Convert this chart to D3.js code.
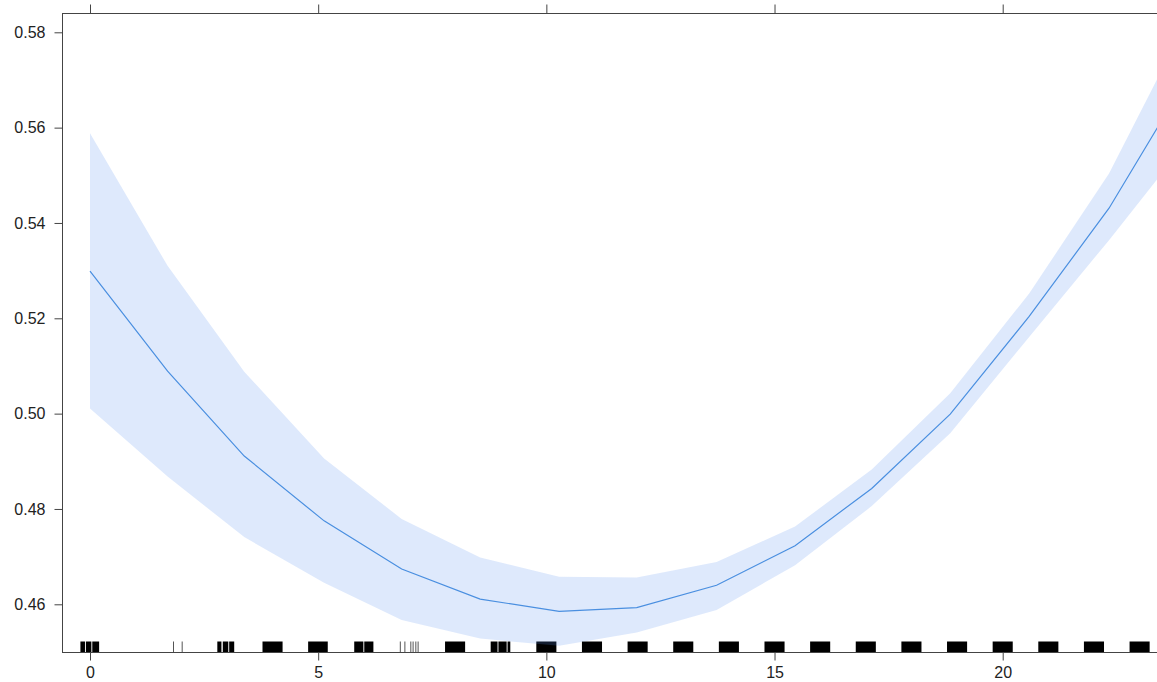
<!DOCTYPE html>
<html>
<head>
<meta charset="utf-8">
<script src="https://cdn.jsdelivr.net/npm/d3@7"></script>
<style>
  body { margin: 0; background: #fff; }
  svg { display: block; font-family: "Liberation Sans", Arial, sans-serif; }
</style>
</head>
<body>
<svg id="chart" width="1157" height="682"></svg>
<script>
// effect curve (fit + confidence band)
var xs    = [0, 1.70, 3.38, 5.13, 6.83, 8.55, 10.28, 11.98, 13.73, 15.45, 17.13, 18.85, 20.58, 22.33, 24.05];
var fit   = [0.5299, 0.5089, 0.4911, 0.4775, 0.4674, 0.4611, 0.4585, 0.4593, 0.4640, 0.4723, 0.4843, 0.4999, 0.5204, 0.5431, 0.5705];
var upper = [0.5588, 0.5310, 0.5088, 0.4906, 0.4779, 0.4698, 0.4658, 0.4656, 0.4689, 0.4763, 0.4883, 0.5043, 0.5252, 0.5504, 0.5826];
var lower = [0.5011, 0.4868, 0.4741, 0.4645, 0.4567, 0.4528, 0.4513, 0.4541, 0.4588, 0.4682, 0.4806, 0.4959, 0.5161, 0.5364, 0.5572];

// rug: dense jittered clusters drawn as spans, sparse ones as single ticks
var rugSpans = [
  [-0.21, -0.11], [-0.09, 0.03], [0.05, 0.20],
  [2.79, 2.88], [2.91, 3.03], [3.05, 3.16],
  [3.78, 4.22], [4.78, 5.21],
  [5.79, 5.99], [6.01, 6.21],
  [7.78, 8.22],
  [8.78, 8.93], [8.95, 9.13], [9.15, 9.21],
  [9.78, 10.22], [10.78, 11.22], [11.78, 12.22], [12.78, 13.22], [13.78, 14.22],
  [14.78, 15.22], [15.78, 16.22], [16.78, 17.22], [17.78, 18.22], [18.78, 19.22],
  [19.78, 20.22], [20.78, 21.22], [21.78, 22.22], [22.78, 23.22]
];
var rugTicks = [1.83, 2.02, 6.80, 6.90, 7.03, 7.08, 7.14, 7.19];

var xTicks = [0, 5, 10, 15, 20];
var yTicks = [0.46, 0.48, 0.50, 0.52, 0.54, 0.56, 0.58];

// right edge of the panel lies just past the visible window
var box = {left: 62.5, top: 13.5, right: 1158.5, bottom: 652.5};

var x = d3.scaleLinear().domain([0, 20]).range([90, 1002.7]);
var y = d3.scaleLinear().domain([0.46, 0.58]).range([604.3, 32.3]);

var svg = d3.select('#chart');

svg.append('defs').append('clipPath').attr('id', 'plotclip')
  .append('rect')
  .attr('x', box.left).attr('y', box.top)
  .attr('width', box.right - box.left).attr('height', box.bottom - box.top);

var plot = svg.append('g').attr('clip-path', 'url(#plotclip)');

// rug first, band goes over it with transparency
plot.append('g').selectAll('rect').data(rugSpans).join('rect')
  .attr('x', function (d) { return x(d[0]); })
  .attr('width', function (d) { return x(d[1]) - x(d[0]); })
  .attr('y', box.bottom - 11)
  .attr('height', 11)
  .attr('fill', '#000');

plot.append('g').selectAll('line').data(rugTicks).join('line')
  .attr('x1', function (d) { return x(d); })
  .attr('x2', function (d) { return x(d); })
  .attr('y1', box.bottom - 11)
  .attr('y2', box.bottom)
  .attr('stroke', '#555')
  .attr('stroke-width', 1);

var idx = d3.range(xs.length);

var band = d3.area()
  .x(function (i) { return x(xs[i]); })
  .y0(function (i) { return y(lower[i]); })
  .y1(function (i) { return y(upper[i]); });

plot.append('path').datum(idx)
  .attr('d', band)
  .attr('fill', 'rgb(90,145,240)')
  .attr('fill-opacity', 0.2);

var line = d3.line()
  .x(function (i) { return x(xs[i]); })
  .y(function (i) { return y(fit[i]); });

plot.append('path').datum(idx)
  .attr('d', line)
  .attr('fill', 'none')
  .attr('stroke', '#4a8fe0')
  .attr('stroke-width', 1.2);

// frame
svg.append('rect')
  .attr('x', box.left).attr('y', box.top)
  .attr('width', box.right - box.left).attr('height', box.bottom - box.top)
  .attr('fill', 'none')
  .attr('stroke', '#444')
  .attr('stroke-width', 1);

// axes (lattice style: outward ticks, labels left and bottom only)
var leftAxis = d3.axisLeft(y).tickValues(yTicks).tickSize(8).tickPadding(9)
  .tickFormat(d3.format('.2f'));
var bottomAxis = d3.axisBottom(x).tickValues(xTicks).tickSize(8).tickPadding(6)
  .tickFormat(d3.format('d'));
var topAxis = d3.axisTop(x).tickValues(xTicks).tickSize(9).tickFormat('');

function styleAxis(g) {
  g.select('.domain').remove();
  g.selectAll('.tick line').attr('stroke', '#444');
  g.selectAll('.tick text')
    .attr('fill', '#222')
    .style('font-size', '16px')
    .style('font-family', '"Liberation Sans", Arial, sans-serif');
}

svg.append('g').attr('transform', 'translate(' + box.left + ',0)').call(leftAxis).call(styleAxis);
svg.append('g').attr('transform', 'translate(0,' + box.bottom + ')').call(bottomAxis).call(styleAxis);
svg.append('g').attr('transform', 'translate(0,' + box.top + ')').call(topAxis).call(styleAxis);
</script>
</body>
</html>
